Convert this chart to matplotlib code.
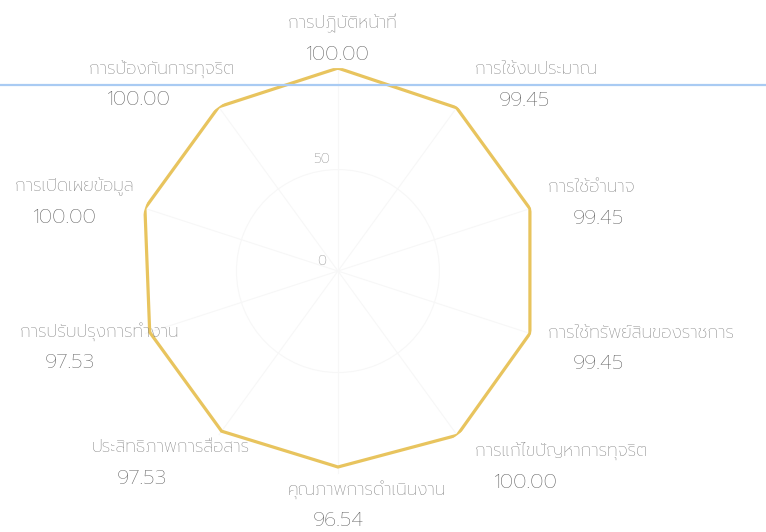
import numpy as np
import matplotlib
matplotlib.use("Agg")
import matplotlib.pyplot as plt
from matplotlib.lines import Line2D

# data (clockwise from the top)
categories = [
    "การปฏิบัติหน้าที่",
    "การใช้งบประมาณ",
    "การใช้อำนาจ",
    "การใช้ทรัพย์สินของราชการ",
    "การแก้ไขปัญหาการทุจริต",
    "คุณภาพการดำเนินงาน",
    "ประสิทธิภาพการสื่อสาร",
    "การปรับปรุงการทำงาน",
    "การเปิดเผยข้อมูล",
    "การป้องกันการทุจริต",
]
scores = [100.00, 99.45, 99.45, 99.45, 100.00, 96.54, 97.53, 97.53, 100.00, 100.00]
r_ticks = [0, 50]

plt.rcParams['font.family'] = ['Prompt', 'DejaVu Sans']

fig = plt.figure(figsize=(7.66, 5.32), dpi=100)
ax = fig.add_axes([0.1762, 0.109, 0.530, 0.763], projection='polar')
ax.set_theta_offset(np.pi / 2)
ax.set_theta_direction(-1)

n = len(categories)
angles = np.arange(n) * 2 * np.pi / n
ax.plot(np.append(angles, angles[0]), np.append(scores, scores[0]),
        color='#E8C45E', lw=2.3, solid_joinstyle='miter', zorder=3)

ax.set_ylim(0, 100)
ax.set_xticks(angles)
ax.set_xticklabels([''] * n)
ax.set_yticks(r_ticks)
ax.set_yticklabels([''] * len(r_ticks))
ax.grid(color='#f7f7f7', lw=0.8)
ax.spines['polar'].set_visible(False)

# radial tick labels
for t in r_ticks:
    ax.annotate(str(t), xy=(0, t), xytext=(-16, 10), textcoords='offset pixels',
                ha='center', va='center', fontsize=10, fontweight='light', color='#7c7c7c')

# point labels: name (left aligned) and value (centred) in a block
for ang, name, val in zip(angles, categories, scores):
    th = np.pi / 2 - ang  # screen angle
    c, s = np.cos(th), np.sin(th)
    if c > 0.1:
        left = 18
    elif c < -0.1:
        left = -130
    else:
        left = -50
    dy_name = 11 + 33.5 * s
    ax.annotate(name, xy=(ang, val), xytext=(left, dy_name), textcoords='offset pixels',
                ha='left', va='center', fontsize=12.5, fontweight='light', color='#7e7e7e')
    ax.annotate(f"{val:.2f}", xy=(ang, val), xytext=(left + 50, dy_name - 31),
                textcoords='offset pixels', ha='center', va='center',
                fontsize=15, fontweight='light', color='#5e5e5e')

# stray blue rule across the top
fig.add_artist(Line2D([0, 1], [0.840, 0.840], transform=fig.transFigure,
                      color='#A9CBF3', lw=1.6, zorder=1))

fig.savefig("out.png", dpi=100)
